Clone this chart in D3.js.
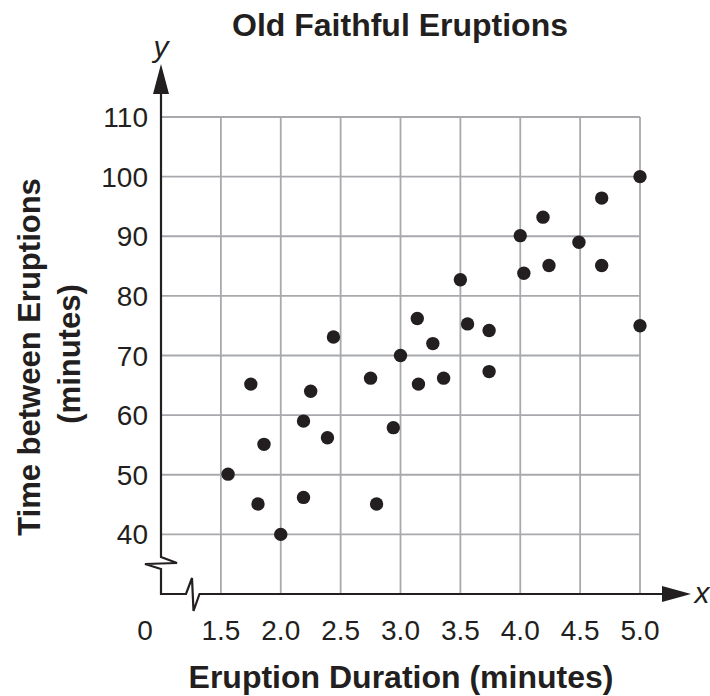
<!DOCTYPE html>
<html>
<head>
<meta charset="utf-8">
<script src="https://cdn.jsdelivr.net/npm/d3@7"></script>
<style>
html,body{margin:0;padding:0;background:#fff;}
svg{display:block;}
text{font-family:"Liberation Sans",Arial,Helvetica,sans-serif;fill:#231f20;}
</style>
</head>
<body>
<svg id="chart" width="710" height="696"></svg>
<script>
// Data
const duration = [1.56,1.75,1.81,1.86,2.0,2.19,2.19,2.25,2.39,2.44,2.75,2.8,2.94,3.0,3.14,3.15,3.27,3.36,3.5,3.56,3.74,3.74,4.0,4.03,4.19,4.24,4.49,4.68,4.68,5.0,5.0];
const interval = [50.1,65.2,45.1,55.1,40,59,46.2,64,56.2,73.1,66.2,45.1,57.9,70,76.2,65.2,72,66.2,82.7,75.3,74.2,67.3,90.1,83.8,93.2,85.1,89,96.4,85.1,100,75];
const xTicks = [1.5,2.0,2.5,3.0,3.5,4.0,4.5,5.0];
const xTickLabels = ["1.5","2.0","2.5","3.0","3.5","4.0","4.5","5.0"];
const yTicks = [40,50,60,70,80,90,100,110];
const title = "Old Faithful Eruptions";
const xTitle = "Eruption Duration (minutes)";
const yTitle = ["Time between Eruptions","(minutes)"];

const svg = d3.select("#chart");
const ink = "#231f20", gridC = "#a7a9ac";

const x = d3.scaleLinear().domain([1,5]).range([161,640]);
const y = d3.scaleLinear().domain([30,110]).range([594,117]);

// Grid
const g = svg.append("g");
g.selectAll(".vg").data(xTicks).join("line")
  .attr("x1",d=>x(d)).attr("x2",d=>x(d)).attr("y1",y(110)).attr("y2",y(30))
  .attr("stroke",gridC).attr("stroke-width",1.8);
g.selectAll(".hg").data(yTicks).join("line")
  .attr("x1",x(1)).attr("x2",x(5)).attr("y1",d=>y(d)).attr("y2",d=>y(d))
  .attr("stroke",gridC).attr("stroke-width",1.8);

// Axes with breaks
const ax = x(1), ay = y(30);
const yAxisPath = d3.path();
yAxisPath.moveTo(ax, 92);
yAxisPath.lineTo(ax, 557);
yAxisPath.lineTo(ax+16, 563);
yAxisPath.lineTo(ax-16, 564);
yAxisPath.lineTo(ax, 569);
yAxisPath.lineTo(ax, ay);
yAxisPath.lineTo(186, ay);
yAxisPath.lineTo(192, 578);
yAxisPath.lineTo(193.5, 611);
yAxisPath.lineTo(199.5, ay);
yAxisPath.lineTo(665, ay);
svg.append("path").attr("d", yAxisPath.toString())
  .attr("fill","none").attr("stroke",ink).attr("stroke-width",2.2).attr("stroke-linejoin","miter");
// arrowheads
svg.append("path").attr("d",`M${ax},64 L${ax+8},94 L${ax-8},94 Z`).attr("fill",ink);
svg.append("path").attr("d",`M691,${ay} L662,${ay-8} L662,${ay+8} Z`).attr("fill",ink);

// Tick labels
svg.selectAll(".yt").data(yTicks).join("text")
  .attr("x",148).attr("y",d=>y(d)).attr("dy","0.36em")
  .attr("text-anchor","end").attr("font-size",28).text(d=>d);
svg.selectAll(".xt").data(xTicks).join("text")
  .attr("x",d=>x(d)).attr("y",640)
  .attr("text-anchor","middle").attr("font-size",28).text((d,i)=>xTickLabels[i]);
svg.append("text").attr("x",145).attr("y",640).attr("text-anchor","middle").attr("font-size",28).text("0");

// axis letters
svg.append("text").attr("x",161).attr("y",57).attr("text-anchor","middle")
  .attr("font-size",30).attr("font-style","italic").text("y");
svg.append("text").attr("x",702).attr("y",603).attr("text-anchor","middle")
  .attr("font-size",30).attr("font-style","italic").text("x");

// Points
svg.selectAll(".pt").data(duration).join("circle")
  .attr("cx",d=>x(d)).attr("cy",(d,i)=>y(interval[i])).attr("r",6.7).attr("fill",ink);

// Titles
svg.append("text").attr("x",400).attr("y",36).attr("text-anchor","middle")
  .attr("font-size",32).attr("font-weight","bold").text(title);
svg.append("text").attr("x",401).attr("y",688).attr("text-anchor","middle")
  .attr("font-size",32).attr("font-weight","bold").text(xTitle);
svg.append("text").attr("transform","translate(40,357) rotate(-90)").attr("text-anchor","middle")
  .attr("font-size",31).attr("font-weight","bold").text(yTitle[0]);
svg.append("text").attr("transform","translate(80,354) rotate(-90)").attr("text-anchor","middle")
  .attr("font-size",31).attr("font-weight","bold").text(yTitle[1]);
</script>
</body>
</html>
